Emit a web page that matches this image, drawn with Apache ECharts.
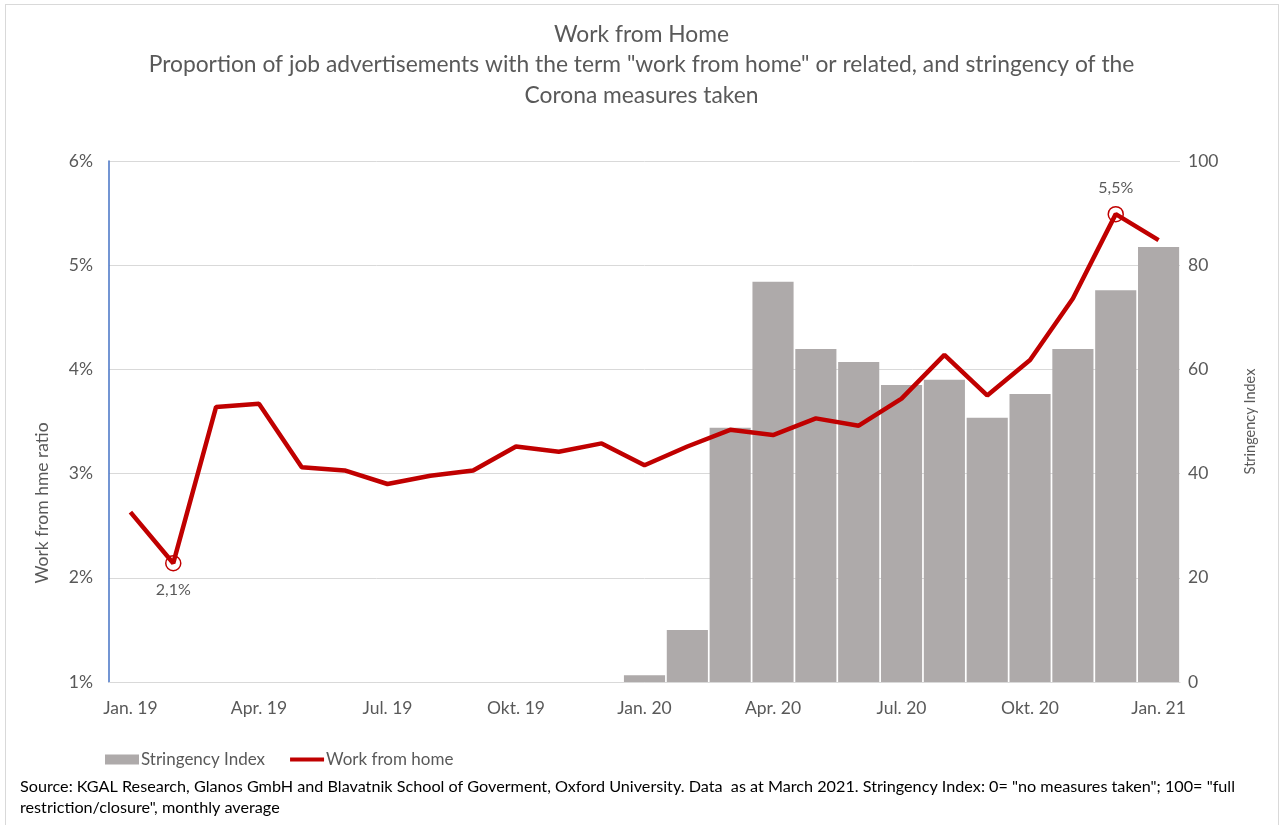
<!DOCTYPE html>
<html><head><meta charset="utf-8">
<script src="https://cdn.jsdelivr.net/npm/echarts@6/dist/echarts.min.js"></script>
<style>
html,body{margin:0;padding:0;background:#fff;}
#frame{position:absolute;left:5px;top:4px;width:1274px;height:830px;border:1px solid #d9d9d9;box-sizing:border-box;}
#c{width:1283px;height:825px;position:absolute;left:0;top:0;}
</style></head><body>
<div id="frame"></div>
<div id="c"></div>
<script>
const months = ['Jan. 19','Feb. 19','Mär. 19','Apr. 19','Mai. 19','Jun. 19','Jul. 19','Aug. 19','Sep. 19','Okt. 19','Nov. 19','Dez. 19',
  'Jan. 20','Feb. 20','Mär. 20','Apr. 20','Mai. 20','Jun. 20','Jul. 20','Aug. 20','Sep. 20','Okt. 20','Nov. 20','Dez. 20','Jan. 21'];
const workFromHome = [2.63,2.14,3.64,3.67,3.06,3.03,2.90,2.98,3.03,3.26,3.21,3.29,
  3.08,3.26,3.42,3.37,3.53,3.46,3.72,4.14,3.75,4.09,4.68,5.49,5.24];
const stringency = [null,null,null,null,null,null,null,null,null,null,null,null,
  1.3,10,48.8,76.8,63.9,61.4,57,58,50.7,55.3,63.9,75.2,83.5];
const highlightLabels = {1:{text:'2,1%',pos:'bottom'}, 23:{text:'5,5%',pos:'top'}};
const leftTicks = ['1%','2%','3%','4%','5%','6%'];

const FONT = 'Lato, "Open Sans", sans-serif';
const GREY = '#595959';
const chart = echarts.init(document.getElementById('c'));

const lineData = workFromHome.map((v,i)=>{
  const h = highlightLabels[i];
  if(!h) return {value:v};
  return {value:v, symbol:'circle', symbolSize:15,
    itemStyle:{color:'rgba(0,0,0,0)',borderColor:'#C00000',borderWidth:1.5},
    label:{show:true,position:h.pos,distance:10,formatter:h.text,color:GREY,fontSize:16,fontFamily:FONT}};
});

chart.setOption({
  animation:false,
  textStyle:{fontFamily:FONT},
  title:{
    text:'Work from Home\nProportion of job advertisements with the term "work from home" or related, and stringency of the\nCorona measures taken',
    left:'center', top:14,
    textStyle:{fontFamily:FONT,fontWeight:'normal',fontSize:22.8,color:GREY,lineHeight:30.5}
  },
  legend:{
    left:100, top:746, itemGap:25, itemWidth:34, itemHeight:10,
    textStyle:{fontFamily:FONT,fontSize:17,color:GREY,padding:[0,0,0,-3]},
    data:[{name:'Stringency Index',icon:'rect'},{name:'Work from home',icon:'path://M0,3 L34,3 L34,7 L0,7 Z'}]
  },
  grid:{left:109,right:103,top:161,bottom:143},
  xAxis:{
    type:'category', data:months, boundaryGap:true,
    axisLine:{lineStyle:{color:'#d9d9d9',width:1}},
    axisTick:{show:false},
    axisLabel:{interval:2,color:GREY,fontSize:17.5,margin:17,fontFamily:FONT}
  },
  yAxis:[
    {type:'value',min:1,max:6,interval:1,position:'left',
     axisLine:{show:true,lineStyle:{color:'#4472C4',width:1.5}},
     axisTick:{show:false},
     axisLabel:{formatter:v=>leftTicks[v-1],color:GREY,fontSize:17.5,margin:16,fontFamily:FONT},
     splitLine:{lineStyle:{color:'#d9d9d9',width:1}}},
    {type:'value',min:0,max:100,interval:20,position:'right',
     axisLine:{show:false},axisTick:{show:false},
     axisLabel:{color:GREY,fontSize:17.5,margin:8,fontFamily:FONT},
     splitLine:{show:false},
     name:'Stringency Index',nameLocation:'middle',nameGap:63,nameRotate:90,
     nameTextStyle:{color:GREY,fontSize:14.5,fontFamily:FONT,padding:[0,0,12,0]}}
  ],
  graphic:[
    {type:'text',x:42,y:503,rotation:Math.PI/2,
     style:{text:'Work from hme ratio',fill:GREY,fontSize:17.5,fontFamily:FONT,align:'center',verticalAlign:'middle'}},
    {type:'text',x:20,y:776,
     style:{text:'Source: KGAL Research, Glanos GmbH and Blavatnik School of Goverment, Oxford University. Data  as at March 2021. Stringency Index: 0= "no measures taken"; 100= "full\nrestriction/closure", monthly average',
       fill:'#000',fontSize:16.2,lineHeight:21,fontFamily:FONT}}
  ],
  series:[
    {name:'Stringency Index',type:'bar',yAxisIndex:1,data:stringency,
     barCategoryGap:'4%',itemStyle:{color:'#AEAAAA'}},
    {name:'Work from home',type:'line',yAxisIndex:0,data:lineData,
     symbol:'none',showSymbol:true,
     lineStyle:{color:'#C00000',width:4.5},itemStyle:{color:'#C00000'},
     z:5}
  ]
});
</script>
</body></html>
